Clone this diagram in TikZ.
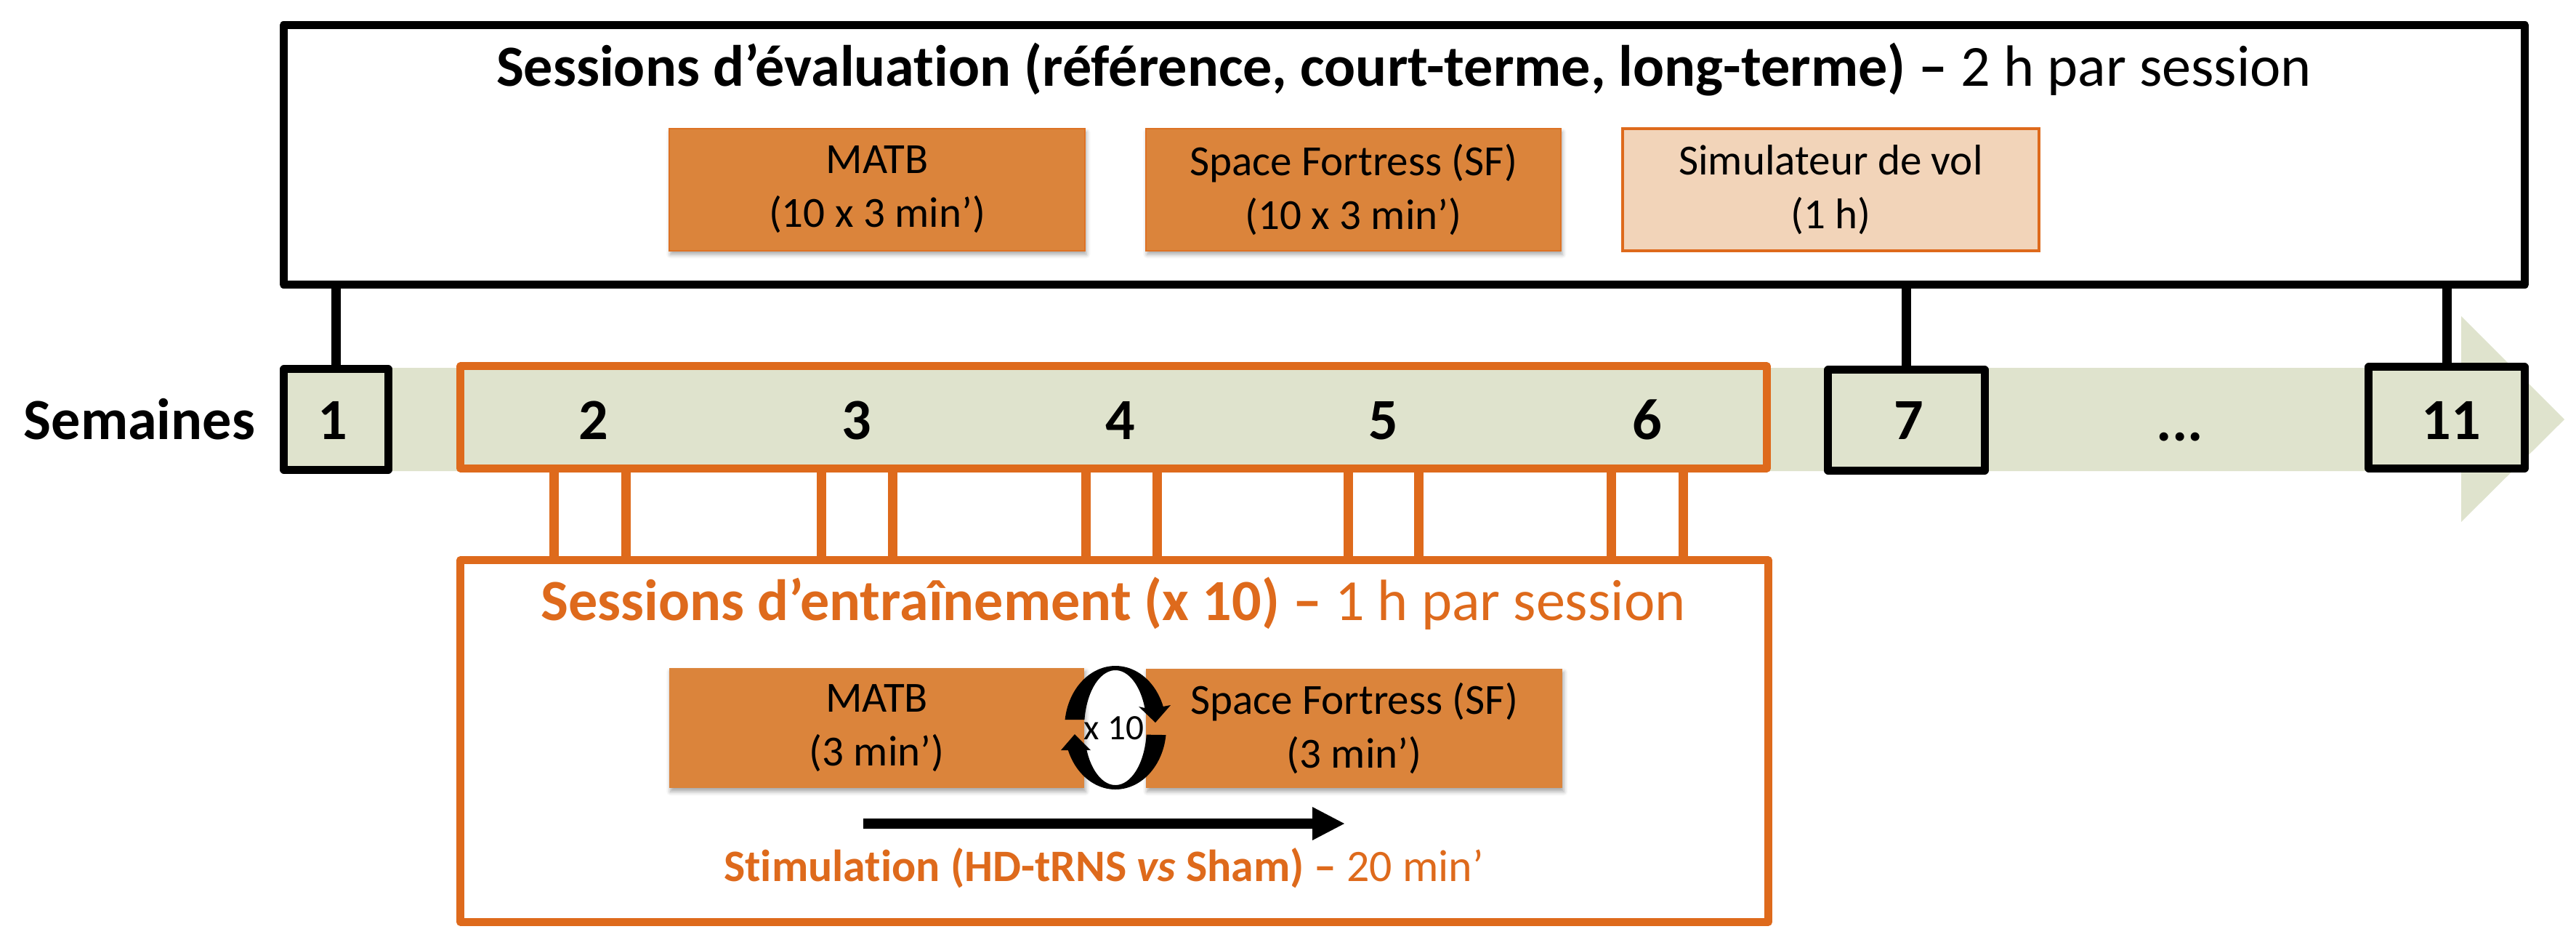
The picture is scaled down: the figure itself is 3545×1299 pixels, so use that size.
\documentclass[tikz,border=0pt]{standalone}
\usepackage{fontspec}
\setmainfont{Carlito}[Ligatures={NoCommon}]
\usetikzlibrary{shadows.blur}
\definecolor{orgline}{RGB}{222,106,28}
\definecolor{orgfill}{RGB}{219,132,59}
\definecolor{peach}{RGB}{242,212,185}
\definecolor{barg}{RGB}{223,227,205}
\newcommand{\bigfont}{\fontsize{22.8}{27}\selectfont}
\newcommand{\taskfont}{\fontsize{16.8}{21}\selectfont}
\begin{document}
\begin{tikzpicture}[x=0.01cm,y=-0.01cm,
  blk/.style={draw=black, line width=3.13pt, line join=round, inner sep=0pt, outer sep=0pt},
  orgbox/.style={draw=orgline, line width=3.13pt, line join=round, inner sep=0pt, outer sep=0pt},
  wkbox/.style={fill=barg},
  num/.style={anchor=base, font=\bigfont\bfseries, inner sep=0pt},
  taskbox/.style={fill=orgfill, draw=orgline!70!orgfill, line width=0.4pt, inner sep=0pt, outer sep=0pt,
    align=center, font=\taskfont,
    blur shadow={shadow xshift=0.5pt, shadow yshift=-1.4pt, shadow blur radius=1.6pt, shadow opacity=35}},
  simbox/.style={fill=peach, draw=orgline, line width=1.1pt, inner sep=0pt, outer sep=0pt,
    align=center, font=\taskfont},
  conn/.style={draw=black, line width=3.7pt},
  oconn/.style={draw=orgline, line width=3.7pt}]
\useasboundingbox (0,0) rectangle (3545,1299);

% evaluation sessions box
\node[blk, minimum width=30.83cm, minimum height=3.56cm] (eval) at (1932.5,213) {};
\node[anchor=base, font=\bigfont, inner sep=0pt] (evaltitle) at (1932,118)
  {\textbf{Sessions d’évaluation (référence, court-terme, long-terme) –} 2 h par session};
\node[taskbox, minimum width=5.72cm, minimum height=1.68cm] (ematb) at (1207,261) {MATB\\(10 x 3 min’)};
\node[taskbox, minimum width=5.71cm, minimum height=1.68cm] (esf) at (1862.5,261) {Space Fortress (SF)\\(10 x 3 min’)};
\node[simbox, minimum width=5.73cm, minimum height=1.68cm] (esim) at (2519.5,261) {Simulateur de vol\\(1 h)};

% timeline bar
\fill[barg] (391,506) -- (3387,506) -- (3387,435) -- (3529,577) -- (3387,718) -- (3387,648) -- (391,648) -- cycle;

% week boxes
\node[blk, wkbox, minimum width=1.43cm, minimum height=1.38cm] (w1) at (462.5,577) {};
\node[orgbox, wkbox, minimum width=17.97cm, minimum height=1.40cm] (w26) at (1532.5,574) {};
\node[blk, wkbox, minimum width=2.15cm, minimum height=1.38cm] (w7) at (2623.5,578) {};
\node[blk, wkbox, minimum width=2.14cm, minimum height=1.39cm] (w11) at (3367,574.5) {};

\node[num] (sem) at (192,604) {Semaines};
\node[num] (n1) at (458,604) {1};
\node[num] (n2) at (817,604) {2};
\node[num] (n3) at (1179,604) {3};
\node[num] (n4) at (1542,604) {4};
\node[num] (n5) at (1904,604) {5};
\node[num] (n6) at (2267,604) {6};
\node[num] (n7) at (2627,604) {7};
\node[num] (dots) at (3000,606) {...};
\node[num] (n11) at (3373,604) {11};

% black connectors
\draw[conn] (w1.north) -- (w1.north |- eval.south);
\draw[conn] (w7.north) -- (w7.north |- eval.south);
\draw[conn] (w11.north) -- (w11.north |- eval.south);

% training box
\node[orgbox, minimum width=17.99cm, minimum height=4.97cm] (train) at (1533.5,1019.5) {};
\node[anchor=base, font=\bigfont, text=orgline, inner sep=0pt] (traintitle) at (1532,853)
  {\textbf{Sessions d’entraînement (x 10) –} 1 h par session};

% orange connectors
\foreach \i/\xx in {1/762,2/861,3/1130,4/1228,5/1494,6/1592,7/1855,8/1952,9/2217,10/2316}{
  \coordinate (oc\i) at (\xx,700);
  \draw[oconn] (oc\i |- w26.south) -- (oc\i |- train.north);
}

% training tasks
\node[taskbox, draw=none, minimum width=5.71cm, minimum height=1.65cm] (tmatb) at (1206.5,1001.5) {MATB\\(3 min’)};
\node[taskbox, draw=none, minimum width=5.73cm, minimum height=1.64cm] (tsf) at (1863.5,1002) {Space Fortress (SF)\\(3 min’)};

% cycle icon
\fill[black] plot[domain=187.4:340,samples=50] ({1535+70*cos(\x)},{1001+85*sin(\x)})
  -- (1611,970) -- (1590,994) -- (1567,972)
  -- plot[domain=340:188,samples=50] ({1535+43*cos(\x)},{1001+79*sin(\x)}) -- cycle;
\fill[black] plot[domain=6.8:158.6,samples=50] ({1535+70*cos(\x)},{1001+85*sin(\x)})
  -- (1460,1032) -- (1479,1010) -- (1501,1032)
  -- plot[domain=157:7,samples=50] ({1535+43*cos(\x)},{1001+79*sin(\x)}) -- cycle;
\node[font=\fontsize{14}{16}\selectfont, inner sep=0pt] (x10) at (1533,1002) {x 10};

% stimulation arrow
\fill[black] (1188,1126) -- (1806,1126) -- (1806,1110) -- (1850,1133) -- (1806,1156) -- (1806,1140) -- (1188,1140) -- cycle;
\node[anchor=base, font=\fontsize{17.6}{21}\selectfont, text=orgline, inner sep=0pt] (stim) at (1519,1212)
  {\textbf{Stimulation (HD-tRNS \textit{vs} Sham) –} 20 min’};
\end{tikzpicture}
\end{document}
